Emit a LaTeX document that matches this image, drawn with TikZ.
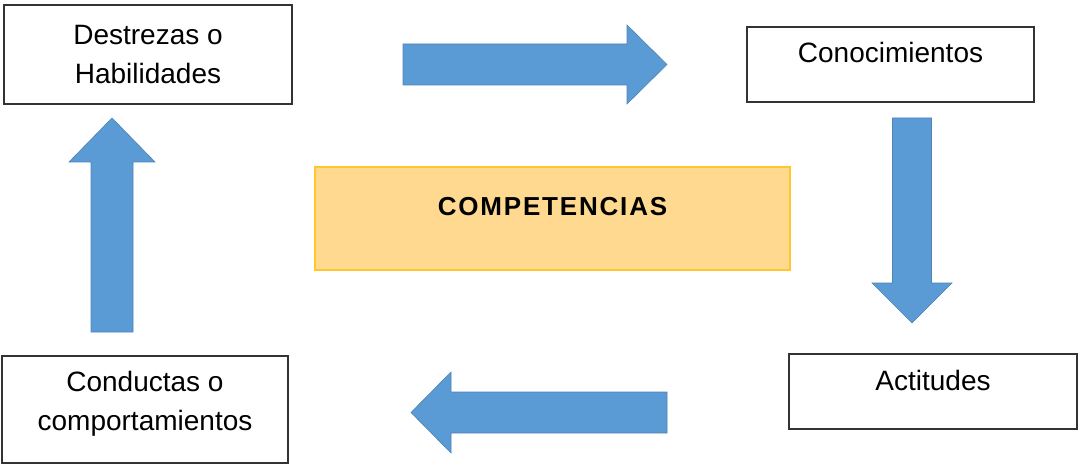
\documentclass[tikz,border=0pt]{standalone}
\usepackage{fontspec}
\setmainfont{Liberation Sans}
\usepackage{tikz}
\usetikzlibrary{positioning}
\definecolor{azul}{HTML}{5B9BD5}
\definecolor{naranja}{HTML}{FFD98F}
\definecolor{dorado}{HTML}{FFC62E}

\begin{document}
\begin{tikzpicture}[
x=1pt,y=-1pt,
Caja/.style={draw=black!80,line width=1.4pt,fill=white,minimum width=288pt,align=center,inner sep=0pt,font=\fontsize{28}{39}\selectfont},
CajaUna/.style={Caja,minimum height=75pt,text height=20pt,text depth=23pt},
CajaDos/.style={Caja},
Centro/.style={draw=dorado,line width=1.5pt,fill=naranja,minimum width=475pt,minimum height=103pt,text height=18pt,text depth=25pt,font=\fontsize{26}{30}\selectfont\bfseries\addfontfeature{LetterSpace=7}},
Flecha/.style={fill=azul,draw=azul!85!black,line width=0.6pt}
]
\useasboundingbox (0,0) rectangle (1084,465);

% cajas
\node[CajaDos,minimum height=99pt,text height=58pt] (destrezas) at (148,54.5) {Destrezas o\\Habilidades};
\node[CajaUna,minimum width=287pt] (conoc) at (890.5,64.5) {Conocimientos};
\node[CajaUna] (actitudes) at (933,391.5) {Actitudes};
\node[CajaDos,minimum width=286pt,minimum height=107pt,text height=48pt] (conductas) at (145,409.5) {Conductas o\\comportamientos};

\node[Centro] (compet) at (552.5,218.5) {COMPETENCIAS};

% flechas
\fill[Flecha] (403,44) -- (627,44) -- (627,25) -- (667,64.5) -- (627,104) -- (627,85) -- (403,85) -- cycle;
\fill[Flecha] (892.5,118) -- (931.5,118) -- (931.5,283) -- (952,283) -- (912,323) -- (872,283) -- (892.5,283) -- cycle;
\fill[Flecha] (667,392) -- (451,392) -- (451,372) -- (411,412.5) -- (451,453) -- (451,433) -- (667,433) -- cycle;
\fill[Flecha] (91,332) -- (91,162) -- (69,162) -- (112,118) -- (155,162) -- (133,162) -- (133,332) -- cycle;

\end{tikzpicture}
\end{document}
